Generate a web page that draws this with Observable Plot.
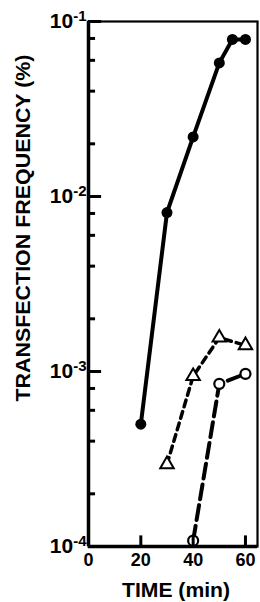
<!DOCTYPE html>
<html>
<head>
<meta charset="utf-8">
<script src="https://cdn.jsdelivr.net/npm/d3@7"></script>
<script src="https://cdn.jsdelivr.net/npm/@observablehq/plot@0.6"></script>
<style>
  html, body { margin: 0; padding: 0; background: #fff; }
  #chart svg { display: block; }
</style>
</head>
<body>
<div id="chart"></div>
<script>
// Filled circles, solid line
const solidTime = [20, 30, 40, 50, 55, 60];
const solidFreq = [5.0e-4, 8.1e-3, 2.19e-2, 5.8e-2, 7.9e-2, 7.9e-2];
// Open triangles, short dashes
const triTime = [30, 40, 50, 60];
const triFreq = [2.95e-4, 9.4e-4, 1.56e-3, 1.41e-3];
// Open circles, long dashes
const openTime = [40, 50, 60];
const openFreq = [1.08e-4, 8.5e-4, 9.7e-4];

const xTicks = [20, 40, 60];
const xTickLabels = [0, 20, 40, 60];
const yMajor = [1e-1, 1e-2, 1e-3, 1e-4];
const yMinor = [8e-2, 6e-2, 4e-2, 2e-2, 8e-3, 6e-3, 4e-3, 2e-3, 8e-4, 6e-4, 4e-4, 2e-4];
const yExp = ["-1", "-2", "-3", "-4"];
const xTitle = "TIME (min)";
const yTitle = "TRANSFECTION FREQUENCY (%)";

const toRows = (xs, ys) => xs.map((t, i) => ({t, f: ys[i]}));
const solid = toRows(solidTime, solidFreq);
const tri = toRows(triTime, triFreq);
const open = toRows(openTime, openFreq);

const font = "'Liberation Sans', Arial, sans-serif";
const ink = "#000";
// inward tick lengths, expressed in scale units
const majorTickEnd = 5.0;   // x units (~13px)
const minorTickEnd = 2.7;   // x units (~7px)
const xTickTop = 1.15e-4;   // y value (~10px above the bottom axis)

const plot = Plot.plot({
  width: 260,
  height: 602,
  marginLeft: 88,
  marginRight: 3,
  marginTop: 21,
  marginBottom: 56,
  style: {fontFamily: font, background: "#fff"},
  x: {domain: [0, 64.6], axis: null},
  y: {type: "log", domain: [1e-4, 1e-1], axis: null},
  marks: [
    Plot.frame({stroke: ink, strokeWidth: 2.2}),
    Plot.ruleX([0], {stroke: ink, strokeWidth: 3.5}),
    Plot.ruleY([1e-4], {stroke: ink, strokeWidth: 3.5}),
    // series
    Plot.line(open, {x: "t", y: "f", stroke: ink, strokeWidth: 4, strokeDasharray: "15,6"}),
    Plot.line(tri, {x: "t", y: "f", stroke: ink, strokeWidth: 3.5, strokeDasharray: "7,5"}),
    Plot.line(solid, {x: "t", y: "f", stroke: ink, strokeWidth: 4}),
    Plot.dot(solid, {x: "t", y: "f", r: 5.5, fill: ink}),
    Plot.dot(tri, {x: "t", y: "f", symbol: "triangle", r: 5, fill: "#fff", stroke: ink, strokeWidth: 2}),
    Plot.dot(open, {x: "t", y: "f", r: 5, fill: "#fff", stroke: ink, strokeWidth: 2.2}),
    // inward tick marks
    Plot.ruleY(yMajor, {y: (d) => d, x1: () => 0, x2: () => majorTickEnd, stroke: ink, strokeWidth: 3}),
    Plot.ruleY(yMinor, {y: (d) => d, x1: () => 0, x2: () => minorTickEnd, stroke: ink, strokeWidth: 3}),
    Plot.ruleX(xTicks, {x: (d) => d, y1: () => 1e-4, y2: () => xTickTop, stroke: ink, strokeWidth: 3}),
    // tick labels
    Plot.axisY({anchor: "left", ticks: yMajor, tickSize: 0, tickPadding: 2, tickFormat: (d) => "10",
      fontSize: 21, fontWeight: "bold", label: null, className: "ylab"}),
    Plot.axisX({anchor: "bottom", ticks: xTickLabels, tickSize: 0, tickPadding: 7,
      fontSize: 18, fontWeight: "bold", label: null})
  ]
});

document.getElementById("chart").appendChild(plot);

const svg = d3.select(plot);
// superscript exponents on y tick labels
svg.selectAll("g.ylab text").each(function(d, i) {
  const t = d3.select(this);
  t.text("10");
  t.append("tspan").attr("dy", "-0.45em").attr("font-size", 15).text(yExp[i]);
});

// axis titles
svg.append("text")
  .attr("x", 176).attr("y", 597)
  .attr("text-anchor", "middle")
  .attr("font-family", font).attr("font-weight", "bold").attr("font-size", 20)
  .attr("textLength", 108).attr("lengthAdjust", "spacingAndGlyphs")
  .text(xTitle);

svg.append("text")
  .attr("transform", "translate(30,228) rotate(-90)")
  .attr("text-anchor", "middle")
  .attr("font-family", font).attr("font-weight", "bold").attr("font-size", 20)
  .attr("textLength", 347).attr("lengthAdjust", "spacingAndGlyphs")
  .text(yTitle);
</script>
</body>
</html>
